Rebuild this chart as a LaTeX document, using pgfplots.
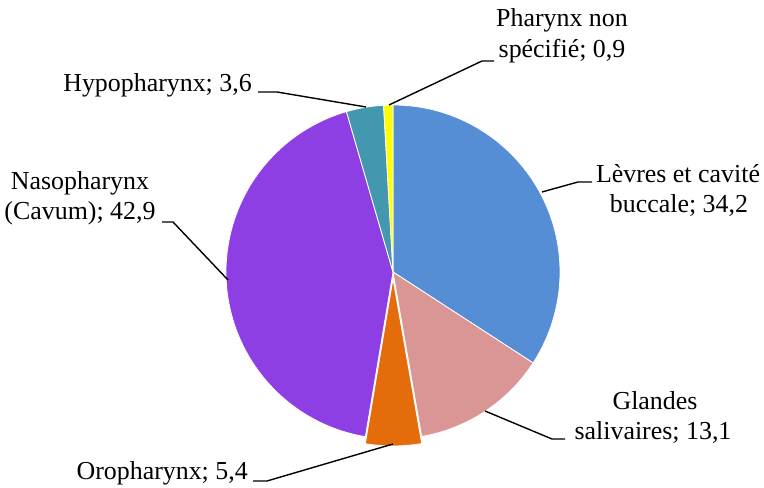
\documentclass[border=0pt]{standalone}
\usepackage{fontspec}
\setmainfont{LiberationSerif}[Extension=.ttf, UprightFont=*-Regular, BoldFont=*-Bold]
\usepackage{pgfplots}
\pgfplotsset{compat=1.18}
\definecolor{cBlue}{HTML}{558ED5}
\definecolor{cPink}{HTML}{D99694}
\definecolor{cOrange}{HTML}{E46C0A}
\definecolor{cPurple}{HTML}{8E3FE3}
\definecolor{cTeal}{HTML}{4398AF}
\definecolor{cYellow}{HTML}{FFFF00}
\begin{document}
\begin{tikzpicture}
% slice values (%)
\pgfmathsetmacro{\vA}{34.2}% Levres et cavite buccale
\pgfmathsetmacro{\vB}{13.1}% Glandes salivaires
\pgfmathsetmacro{\vC}{5.4}%  Oropharynx
\pgfmathsetmacro{\vD}{42.9}% Nasopharynx
\pgfmathsetmacro{\vE}{3.6}%  Hypopharynx
\pgfmathsetmacro{\vF}{0.9}%  Pharynx non specifie
\pgfmathsetmacro{\tot}{\vA+\vB+\vC+\vD+\vE+\vF}
\pgfmathsetmacro{\aA}{90}
\pgfmathsetmacro{\aB}{90-(\vA)/\tot*360}
\pgfmathsetmacro{\aC}{90-(\vA+\vB)/\tot*360}
\pgfmathsetmacro{\aD}{90-(\vA+\vB+\vC)/\tot*360}
\pgfmathsetmacro{\aE}{90-(\vA+\vB+\vC+\vD)/\tot*360}
\pgfmathsetmacro{\aF}{90-(\vA+\vB+\vC+\vD+\vE)/\tot*360}
\pgfmathsetmacro{\aG}{-270}
\begin{axis}[
  x=1bp, y=1bp, xmin=0, xmax=764, ymin=0, ymax=488,
  hide axis, clip=false,
]
\path (axis cs:0,0) rectangle (axis cs:764,488);
\tikzset{slice/.style={draw=white, line width=0.8bp, line join=round}}
\fill[slice, fill=cBlue]   (axis cs:393,216) -- +(\aA:167bp) arc[start angle=\aA, end angle=\aB, radius=167bp] -- cycle;
\fill[slice, fill=cPink]   (axis cs:393,216) -- +(\aB:167bp) arc[start angle=\aB, end angle=\aC, radius=167bp] -- cycle;
\fill[slice, fill=cPurple] (axis cs:393,216) -- +(\aD:167bp) arc[start angle=\aD, end angle=\aE, radius=167bp] -- cycle;
\fill[slice, fill=cTeal]   (axis cs:393,216) -- +(\aE:167bp) arc[start angle=\aE, end angle=\aF, radius=167bp] -- cycle;
\fill[slice, fill=cYellow] (axis cs:393,216) -- +(\aF:167bp) arc[start angle=\aF, end angle=\aG, radius=167bp] -- cycle;
\fill[slice, fill=cOrange] (axis cs:393,209) -- +(\aC:167bp) arc[start angle=\aC, end angle=\aD, radius=167bp] -- cycle;
% leader lines
\addplot[black, line width=1.4bp, no marks] coordinates {(389,383) (482,427) (494,427)};
\addplot[black, line width=1.4bp, no marks] coordinates {(366,381) (277,396) (258,396)};
\addplot[black, line width=1.4bp, no marks] coordinates {(228,208) (173,266) (162,266)};
\addplot[black, line width=1.4bp, no marks] coordinates {(542,296) (578,306) (592,306)};
\addplot[black, line width=1.4bp, no marks] coordinates {(485,77) (552,49) (565,49)};
\addplot[black, line width=1.4bp, no marks] coordinates {(393,44) (267,7) (253,7)};
% labels
\tikzset{lab/.style={inner sep=0pt, font=\rmfamily\fontsize{26}{30}\selectfont, text=black}}
\node[lab, anchor=base] at (axis cs:562,461) {Pharynx non};
\node[lab, anchor=base] at (axis cs:562,430) {spécifié; 0,9};
\node[lab, anchor=base east] at (axis cs:252,396) {Hypopharynx; 3,6};
\node[lab, anchor=base] at (axis cs:80,298) {Nasopharynx};
\node[lab, anchor=base] at (axis cs:80,268) {(Cavum); 42,9};
\node[lab, anchor=base] at (axis cs:678,305) {Lèvres et cavité};
\node[lab, anchor=base] at (axis cs:679,275) {buccale; 34,2};
\node[lab, anchor=base] at (axis cs:655,78) {Glandes};
\node[lab, anchor=base] at (axis cs:653,48) {salivaires; 13,1};
\node[lab, anchor=base east] at (axis cs:248,8) {Oropharynx; 5,4};
\end{axis}
\end{tikzpicture}
\end{document}
